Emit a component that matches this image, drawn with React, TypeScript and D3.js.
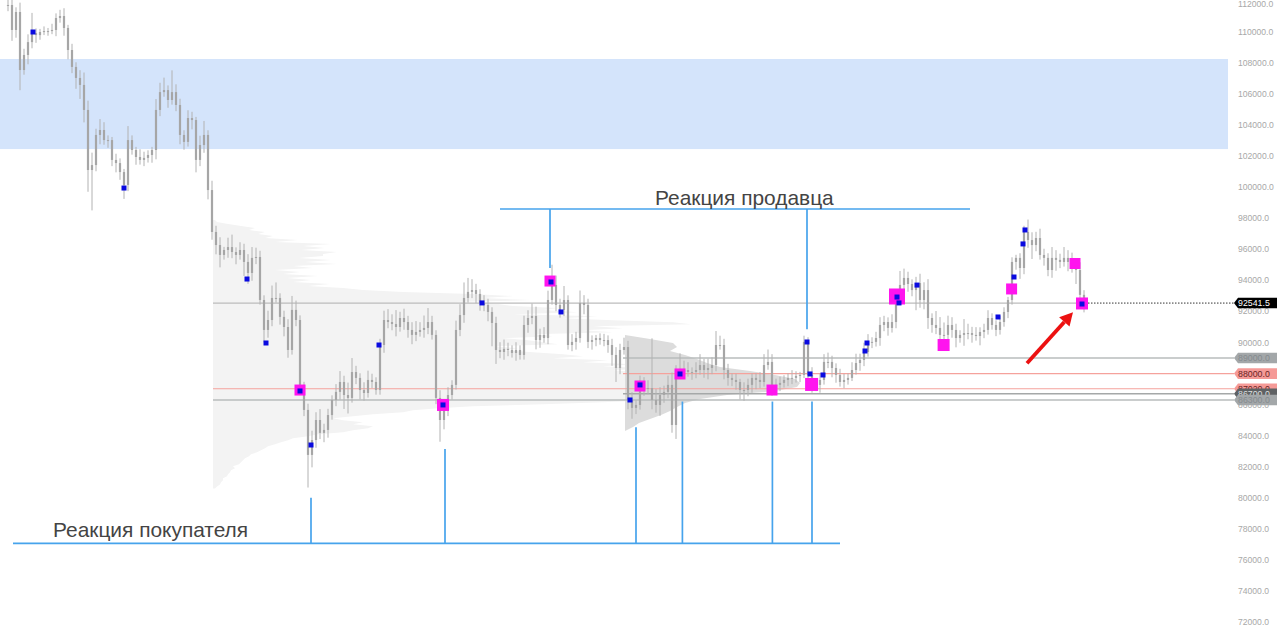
import React from "react";
import * as d3 from "d3";

const closes = [
  111740,110130,111290,107550,108520,109350,109930,109800,110000,110060,
  110060,110130,110900,111030,110260,108840,107750,107040,106590,104980,
  101110,101430,103370,103690,103040,103040,101760,101560,100980,100150,
  103040,102400,101950,101760,101890,102080,102400,104980,106130,106260,
  105620,106130,105300,103370,102920,104460,104330,101760,102720,103370,
  99820,97120,96280,95640,95960,96150,95830,95640,95960,95190,
  94480,95450,95510,92740,90810,91450,92870,92870,91650,91000,
  89520,92100,91450,87270,85660,82760,83720,85010,84180,84370,
  85330,86300,86820,87460,86620,86430,88100,87720,86940,86750,
  87590,87460,86940,89840,91450,91320,91190,91000,91580,91320,
  90810,90490,90680,90810,90940,91320,90490,86430,85010,85660,
  86620,87270,90810,91770,92870,93260,93380,93130,92550,92420,
  91970,91260,89520,89390,89590,89520,89330,89520,89200,91130,
  91580,91710,90160,90490,90290,92740,93710,92420,92100,92740,
  89840,90040,90290,92550,92420,90040,90160,90290,90160,90160,
  89840,89200,88360,89520,89710,86300,85790,85980,87270,87070,
  87070,86300,85980,86620,86820,87270,84690,88040,88100,88230,
  88100,88100,88230,88550,88230,88360,88550,89840,89840,88230,
  87720,87590,87460,86940,86940,87270,87720,87590,87460,88550,
  88750,87270,87270,87400,87590,87720,87720,87850,87910,90040,
  87910,87270,87270,87590,88750,88750,88360,87910,87460,87590,
  87720,88230,88680,88880,89390,90040,90040,90290,91130,91320,
  90940,91320,92740,93710,94160,93770,93380,93830,92740,93380,
  91580,91130,90940,90490,90490,91130,90810,90290,90490,90610,
  90610,90490,90420,90680,90810,91580,91130,90810,91320,91970,
  92740,95190,95450,94800,97120,96600,96280,96730,95640,95450,
  94670,95450,95320,95190,95450,95190,95000,94670,93070,92541.5,
];

// Wick lengths above / below the body, in hundreds of dollars.
const wicksUp = [
  5,8,3,6,4,5,13,3,2,3, 2,4,3,4,5,2,4,3,5,8,
  6,8,4,7,5,3,2,4,3,2, 9,3,2,5,4,3,2,7,6,8,
  3,14,5,4,3,5,4,2,6,9, 3,6,4,5,2,6,8,3,5,4,
  5,7,6,4,3,6,8,10,3,4, 5,9,6,3,2,4,6,5,7,4,
  4,3,5,7,4,8,9,4,3,5, 6,4,3,4,6,7,5,9,4,6,
  4,5,7,5,8,9,4,3,5,4, 5,3,6,7,10,9,7,4,3,5,
  4,3,4,5,6,4,3,5,3,6, 5,8,6,4,5,6,13,6,4,9,
  3,5,4,8,5,4,3,2,3,4, 3,4,5,4,6,4,5,3,6,5,
  5,32,7,5,4,6,8,5,12,6, 5,3,5,7,4,6,5,9,6,4,
  4,3,4,2,5,4,3,3,5,7, 8,5,4,4,3,3,5,3,2,4,
  3,5,4,4,5,6,4,3,4,4, 3,5,6,4,6,5,3,4,5,4,
  3,5,6,9,6,4,3,4,6,5, 7,3,9,7,8,6,5,4,3,9,
  6,4,5,3,4,5,3,3,4,3, 2,3,2,3,4,8,5,4,6,4,
  3,7,5,4,7,5,6,4,5,3, 4,5,3,4,2,3,3,2,3,2,
];
const wicksDown = [
  4,7,5,13,3,6,4,5,3,2, 3,2,4,3,5,6,4,7,9,8,
  14,26,4,6,3,5,4,6,5,9, 4,3,5,3,4,3,5,6,4,3,
  5,3,4,6,5,3,6,8,4,5, 6,5,6,8,3,5,4,6,3,9,
  7,5,4,3,8,5,4,3,5,6, 5,3,4,6,4,21,8,5,4,6,
  5,3,4,5,9,10,3,4,6,5, 3,4,3,3,5,4,4,6,3,5,
  5,6,4,3,5,4,3,4,14,6, 4,3,3,4,5,3,4,6,5,4,
  6,15,9,4,5,4,3,5,3,3, 5,4,6,5,3,4,3,4,5,4,
  3,4,5,3,6,4,5,4,3,4, 5,7,9,4,3,6,7,4,3,5,
  4,6,5,7,5,4,5,9,3,4, 3,5,4,3,5,6,4,4,3,6,
  5,4,5,6,7,4,5,6,4,3, 3,7,5,4,3,4,4,3,4,2,
  3,5,4,5,3,4,6,5,3,4, 3,2,3,5,4,3,4,3,5,4,
  5,3,4,3,4,5,4,13,5,6, 7,5,4,3,4,6,5,6,3,7,
  4,5,3,6,4,3,3,4,3,3, 4,3,5,7,4,5,9,4,3,5,
  4,5,7,4,3,6,5,9,4,6, 3,2,3,4,3,2,3,3,4,7,
];

const axisTicks = d3.range(72000, 112001, 2000);

const bandTop = 108260;
const bandBottom = 102460;

const magentaBars = [135.5,73,108.75,158,168,191,200.9,222.25,233.9,250.9,266.75,268.5];
const magentaPrices = [93960,86940,85980,87200,87975,86940,87300,92965,89840,93450,95090,92515];
const magentaWeights = [11,11,12,11,11,11,13,16,12,11,11,12];

const blueBars = [6.25,29,59.75,64.5,73,75.75,92.75,108.75,118.5,135.75,138.25,155.5,158,168,199.75,200.5,203.75,214.25,214.75,222.25,222.75,227.25,247.5,251.5,253.75,254.25,268.5];
const bluePrices = [110000,99950,94090,89970,86880,83400,89840,85980,92550,93900,91970,86300,87270,87975,90035,87975,87910,89455,89970,92930,92550,93700,91645,94220,96350,97250,92480];

// Volume profiles: volume per price bin, walking down from the top price.
const profileBin = 129;
const profileATop = 97892;
const profileAVolumes = [
  2,4,15,28,42,36,52,45,60,52,85,62,118,90,112,88,124,110,110,86,118,92,124,80,100,62,87,70,105,74,98,80,117,95,130,150,190,260,
  300,270,318,240,285,300,345,330,365,300,385,350,400,460,478,380,410,370,400,320,340,290,315,330,345,280,305,290,320,350,370,340,
  395,370,420,390,435,400,430,410,450,415,440,430,470,450,485,460,465,450,478,470,440,390,330,260,225,200,190,160,140,120,130,150,
  140,160,155,140,130,105,95,80,75,68,62,55,52,48,44,38,36,32,30,28,26,20,22,18,17,15,14,10,10,8,7,4,2,
];
const profileBTop = 90486;
const profileBVolumes = [0,25,48,52,45,60,72,82,95,125,150,170,175,172,150,102,75,60,52,45,36,25,14,8,0];
const profileBBin = 258;

const sellerLevel = 98600;
const buyerLevel = 77060;
const sellerSpan = [123, 240.5];
const buyerSpan = [1.25, 208];
const sellerBars = [135.5, 199.75];
const sellerEnds = [94800, 90850];
const buyerBars = [75.75, 109.25, 157, 168.6, 191.1, 201];
const buyerEnds = [80000, 83150, 84550, 86200, 86200, 86200];

const levelPrices = [89000, 88000, 87020, 86700, 86300];
const levelStartBars = [153.75, 153.75, 51.25, 153.75, 51.25];
const levelLabels = ["89000.0", "88000.0", "87020.0", "86700.0", "86300.0"];
const levelKinds = ["grey", "pink", "pink", "dark", "grey"];
const pocPrice = 92541.5;
const pocLabel = "92541.5";
const pocStartBar = 51.25;

const arrowFrom = [254.75, 88660];
const arrowTo = [266.25, 91950];

const sellerText = "Реакция продавца";
const buyerText = "Реакция покупателя";

const kindStyle: Record<string, { line: string; fill: string; text: string }> = {
  grey: { line: "#b9bdbd", fill: "#a3a7a9", text: "#858b8f" },
  pink: { line: "#f5a29c", fill: "#f59a97", text: "#6b2424" },
  dark: { line: "#a5a8a8", fill: "#5e6163", text: "#dcdedf" },
};

const x = d3.scaleLinear().domain([0, closes.length - 1]).range([8, 1084]);
const y = d3.scaleLinear().domain([110000, 72000]).range([32, 622]);
const vol = d3.scaleLinear().domain([0, 100]).range([0, 100]);

const areaFrom = (top: number, bin: number, baseBar: number) =>
  d3
    .area<number>()
    .y((_, i) => y(top - i * bin))
    .x0(x(baseBar))
    .x1((d) => x(baseBar) + vol(d))
    .curve(d3.curveLinear);

const tagPath = (cy: number) =>
  `M1234,${cy}L1238,${cy - 5.3}H1277V${cy + 5.3}H1238Z`;

export default function App() {
  return (
    <svg
      width={1280}
      height={640}
      style={{ position: "absolute", left: 0, top: 0, background: "#fff" }}
      fontFamily="'Liberation Sans', Arial, sans-serif"
    >
      <rect x={0} width={1228} y={y(bandTop)} height={y(bandBottom) - y(bandTop)} fill="#d4e4fb" />

      <path d={areaFrom(profileATop, profileBin, 51.25)(profileAVolumes) ?? ""} fill="#f3f3f3" />
      <path d={areaFrom(profileBTop, profileBBin, 154.25)(profileBVolumes) ?? ""} fill="#dcdcdc" />

      <line x1={x(pocStartBar)} x2={x(268.5)} y1={y(pocPrice)} y2={y(pocPrice)} stroke="#bcbcbc" strokeWidth={1.2} />
      <line x1={x(268.5)} x2={1234} y1={y(pocPrice)} y2={y(pocPrice)} stroke="#333" strokeWidth={1} strokeDasharray="1.5 1.5" />
      {levelPrices.map((p, i) => (
        <line key={p} x1={x(levelStartBars[i])} x2={1234} y1={y(p)} y2={y(p)} stroke={kindStyle[levelKinds[i]].line} strokeWidth={levelKinds[i] === "pink" ? 1.1 : 1.5} />
      ))}

      {closes.map((c, i) => {
        const o = i === 0 ? c : closes[i - 1];
        const hi = Math.max(o, c) + wicksUp[i] * 100;
        const lo = Math.min(o, c) - wicksDown[i] * 100;
        const top = y(Math.max(o, c));
        const bot = y(Math.min(o, c));
        return (
          <g key={i}>
            <line x1={x(i)} x2={x(i)} y1={y(hi)} y2={y(lo)} stroke="#b2b2b2" strokeWidth={1} />
            <rect x={x(i) - 1.1} width={2.2} y={top} height={Math.max(bot - top, 1)} fill="#a6a6a6" />
          </g>
        );
      })}

      {magentaBars.map((b, i) => {
        const s = magentaWeights[i];
        return <rect key={i} x={x(b) - s / 2} y={y(magentaPrices[i]) - s / 2} width={s} height={s} fill="#ff14ee" />;
      })}
      {blueBars.map((b, i) => (
        <rect key={i} x={x(b) - 2.5} y={y(bluePrices[i]) - 2.5} width={5} height={5} fill="#0a0ae0" />
      ))}

      <g stroke="#46a3ec" strokeWidth={1.7}>
        <line x1={x(sellerSpan[0])} x2={x(sellerSpan[1])} y1={y(sellerLevel)} y2={y(sellerLevel)} />
        {sellerBars.map((b, i) => (
          <line key={b} x1={x(b)} x2={x(b)} y1={y(sellerLevel)} y2={y(sellerEnds[i])} />
        ))}
        <line x1={x(buyerSpan[0])} x2={x(buyerSpan[1])} y1={y(buyerLevel)} y2={y(buyerLevel)} />
        {buyerBars.map((b, i) => (
          <line key={b} x1={x(b)} x2={x(b)} y1={y(buyerLevel)} y2={y(buyerEnds[i])} />
        ))}
      </g>

      <text x={655} y={205} fontSize={20.9} fill="#444">{sellerText}</text>
      <text x={53} y={537} fontSize={20.9} fill="#444">{buyerText}</text>

      {(() => {
        const x1 = x(arrowFrom[0]), y1 = y(arrowFrom[1]), x2 = x(arrowTo[0]), y2 = y(arrowTo[1]);
        const a = Math.atan2(y2 - y1, x2 - x1);
        const h = 13, w = 7;
        const bx = x2 - h * Math.cos(a), by = y2 - h * Math.sin(a);
        const nx = -Math.sin(a) * w, ny = Math.cos(a) * w;
        return (
          <g>
            <line x1={x1} y1={y1} x2={bx} y2={by} stroke="#ec1111" strokeWidth={3.8} />
            <path d={`M${x2},${y2}L${bx + nx},${by + ny}L${bx - nx},${by - ny}Z`} fill="#ec1111" />
          </g>
        );
      })()}

      {axisTicks.map((t) => (
        <text key={t} x={1238} y={Math.max(y(t) + 3, 7)} fontSize={8.6} fill="#a8a8a8">
          {d3.format(".1f")(t)}
        </text>
      ))}

      {levelPrices.map((p, i) => {
        const k = kindStyle[levelKinds[i]];
        return (
          <g key={p}>
            <path d={tagPath(y(p))} fill={k.fill} />
            <text x={1238} y={y(p) + 3.2} fontSize={8.8} fill={k.text}>{levelLabels[i]}</text>
          </g>
        );
      })}
      <path d={tagPath(y(pocPrice))} fill="#000" />
      <text x={1238} y={y(pocPrice) + 3.2} fontSize={8.8} fill="#fff">{pocLabel}</text>
    </svg>
  );
}
